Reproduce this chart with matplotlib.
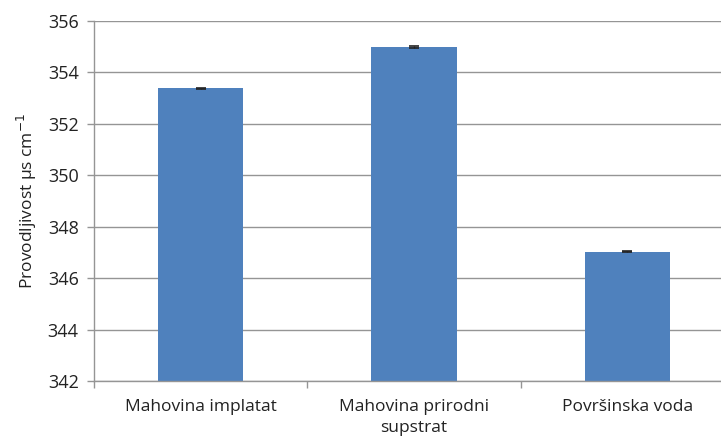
import numpy as np
import matplotlib.pyplot as plt

# data
categories = ['Mahovina implatat', 'Mahovina prirodni\nsupstrat', 'Površinska voda']
values = [353.39, 354.98, 347.03]
errors = [0.02, 0.03, 0.02]
yticks = [342, 344, 346, 348, 350, 352, 354, 356]

plt.rcParams['font.family'] = ['Open Sans', 'DejaVu Sans']

fig = plt.figure(figsize=(7.21, 4.41), dpi=100)
ax = fig.add_axes([94/721, 60/441, 640/721, 360/441])

x = np.arange(len(categories))
ax.bar(x, values, width=0.4, color='#4f81bd', zorder=2,
       yerr=errors, error_kw=dict(ecolor='#222222', capsize=3.5, elinewidth=1, capthick=1.2))

ax.set_ylim(342, 356)
ax.set_xlim(-0.5, 2.5)
ax.set_yticks(yticks)
ax.yaxis.grid(True, color='#959595', linewidth=1)
ax.set_axisbelow(True)

ax.set_xticks(x)
ax.set_xticklabels(categories, fontsize=12.5, color='#222222', linespacing=1.45)
ax.set_xticks([-0.5, 0.5, 1.5, 2.5], minor=True)
ax.tick_params(axis='x', which='major', length=0, pad=13)
ax.tick_params(axis='x', which='minor', length=5, color='#959595', width=1)
ax.tick_params(axis='y', length=5, color='#959595', width=1, labelsize=13, labelcolor='#222222', pad=6)

for s in ['top', 'right']:
    ax.spines[s].set_visible(False)
for s in ['left', 'bottom']:
    ax.spines[s].set_color('#959595')
    ax.spines[s].set_linewidth(1)

ax.set_ylabel('Provodljivost µs cm$^{-1}$', fontsize=12.5, color='#222222', labelpad=6)

plt.savefig('out.png', dpi=100)
